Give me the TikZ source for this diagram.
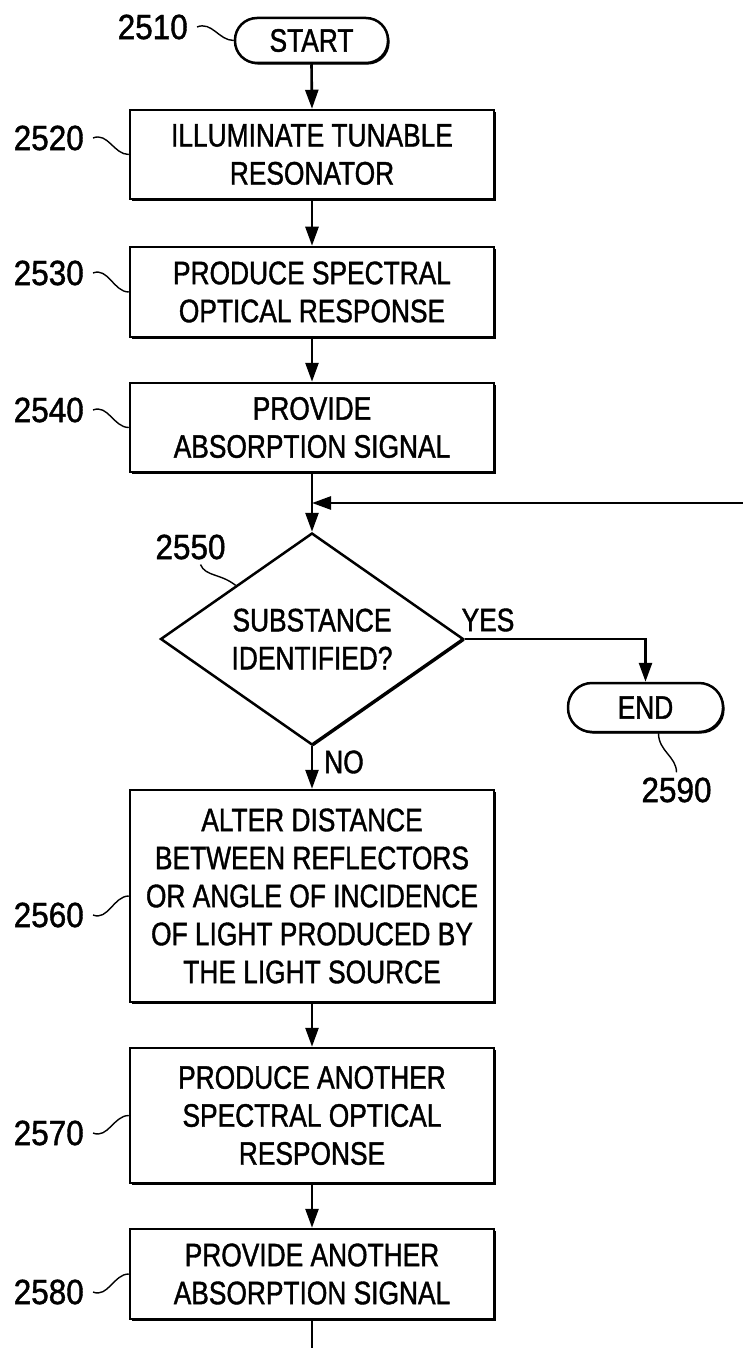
\documentclass[tikz,border=0pt]{standalone}
\usepackage{fontspec}
\setmainfont{Liberation Sans}[FakeStretch=0.81,FakeBold=1.2]
\newfontfamily\tagfont{Liberation Sans}[FakeStretch=0.9,FakeBold=1.2]
\usetikzlibrary{arrows.meta,shapes.geometric,shadows,calc}
\tikzset{
  heavy/.style={drop shadow={shadow xshift=1.6pt, shadow yshift=-1.6pt, fill=black, opacity=1}},
  stepbox/.style={draw, fill=white, line width=2.5pt, minimum width=364pt, inner sep=0pt, align=center, font=\fontsize{32.5}{38}\selectfont, heavy},
  term/.style={draw, fill=white, line width=2.5pt, rounded corners=22pt, inner sep=0pt, font=\fontsize{32.5}{38}\selectfont, heavy},
  query/.style={draw, fill=white, diamond, aspect=1.43, line width=2.5pt, inner sep=0pt, minimum width=303pt, minimum height=212pt, align=center, font=\fontsize{32.5}{38}\selectfont, heavy},
  flow/.style={-{Triangle[length=19pt,width=13pt]}, line width=2.6pt},
  tag/.style={font=\tagfont\fontsize{35}{38}\selectfont, inner xsep=9pt, inner ysep=5pt},
  leader/.style={line width=1.4pt},
  note/.style={font=\fontsize{32.5}{38}\selectfont, inner sep=0pt}
}

\begin{document}
\begin{tikzpicture}[x=1pt,y=-1pt]
  \useasboundingbox (0,0) rectangle (743,1348);
  \node[term, minimum width=153pt, minimum height=45pt] (start) at (311.5,40.5) {START};
  \node[stepbox, minimum height=89pt] (illum) at (312,154.5) {ILLUMINATE TUNABLE\\RESONATOR};
  \node[stepbox, minimum height=90pt] (spectral) at (312,292) {PRODUCE SPECTRAL\\OPTICAL RESPONSE};
  \node[stepbox, minimum height=89pt] (absorb) at (312,427.5) {PROVIDE\\ABSORPTION SIGNAL};
  \node[query] (ident) at (312,639) {SUBSTANCE\\IDENTIFIED?};
  \node[term, minimum width=155pt, minimum height=49pt, rounded corners=24pt] (finish) at (645.5,707.5) {END};
  \node[stepbox, minimum height=212pt] (alter) at (312,896) {ALTER DISTANCE\\BETWEEN REFLECTORS\\OR ANGLE OF INCIDENCE\\OF LIGHT PRODUCED BY\\THE LIGHT SOURCE};
  \node[stepbox, minimum height=135pt] (spectral2) at (312,1115.5) {PRODUCE ANOTHER\\SPECTRAL OPTICAL\\RESPONSE};
  \node[stepbox, minimum height=90pt] (absorb2) at (312,1274) {PROVIDE ANOTHER\\ABSORPTION SIGNAL};
  \coordinate (loopin) at (743,503);
  \coordinate (tail) at (312,1348);

  \foreach \a/\b in {start/illum,illum/spectral,spectral/absorb,absorb/ident,ident/alter,alter/spectral2,spectral2/absorb2}
    \draw[flow] (\a.south) -- (\b.north);
  \draw[flow] (loopin) -- (absorb.south |- loopin);
  \draw[flow] (ident.east) -| (finish.north);
  \draw[line width=2.6pt] (absorb2.south) -- (tail);
  \node[note] (yes) at (488,620) {YES};
  \node[note] (no) at (344,762) {NO};

  \node[tag, anchor=east] (r2510) at (197,27) {2510};
  \node[tag, anchor=east] (r2520) at (93,138) {2520};
  \node[tag, anchor=east] (r2530) at (93,273) {2530};
  \node[tag, anchor=east] (r2540) at (93,410) {2540};
  \node[tag] (r2550) at (190.5,547) {2550};
  \node[tag, anchor=east] (r2560) at (93,915) {2560};
  \node[tag, anchor=east] (r2570) at (93,1133) {2570};
  \node[tag, anchor=east] (r2580) at (93,1292) {2580};
  \node[tag] (r2590) at (676.5,790) {2590};
  \draw[leader] (r2510.east) .. controls +(15,-6) and +(-15,0) .. (start.west);
  \foreach \r/\n in {r2520/illum,r2530/spectral,r2540/absorb}
    \draw[leader] (\r.east) .. controls +(15,-6) and +(-15,0) .. (\n.west);
  \foreach \r/\n in {r2560/alter,r2570/spectral2,r2580/absorb2}
    \draw[leader] (\r.east) .. controls +(15,6) and +(-15,0) .. (\n.west);
  \draw[leader] ([xshift=10pt]r2550.south) .. controls +(5,12) and +(-15,-12) .. (ident.north west);
  \draw[leader] ([xshift=13pt]finish.south) .. controls +(0,18) and +(0,-16) .. (r2590.north);
\end{tikzpicture}
\end{document}
